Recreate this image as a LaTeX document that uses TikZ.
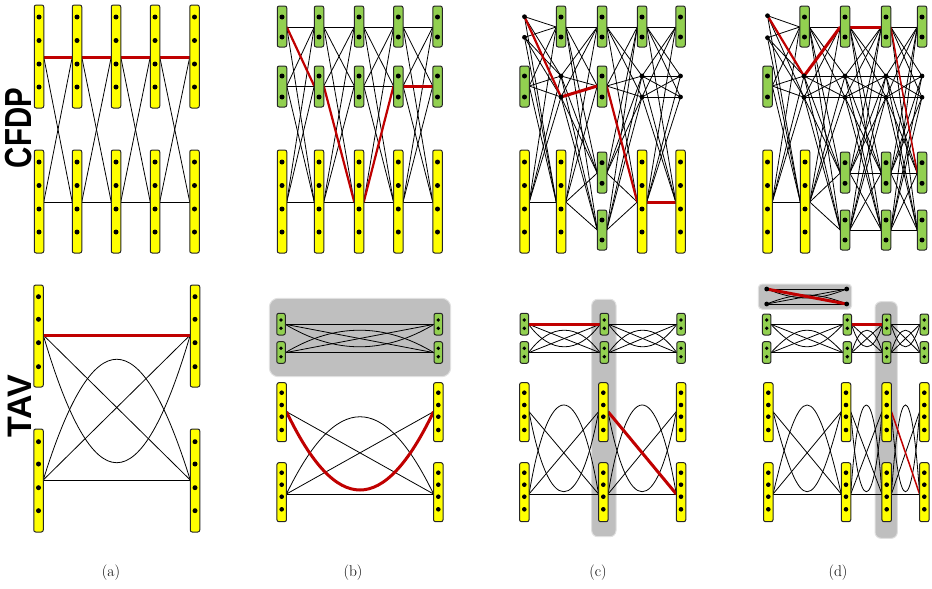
\documentclass[tikz,border=0pt]{standalone}
\usepackage{fontspec}
\newfontfamily\labfont{Liberation Sans}
\usetikzlibrary{calc}
\definecolor{yel}{HTML}{FFFF00}
\definecolor{grn}{HTML}{92D050}
\definecolor{myred}{HTML}{C00000}
\pgfdeclarelayer{back}\pgfdeclarelayer{bg}\pgfsetlayers{back,bg,main}
\tikzset{
 barbox/.style={rectangle, rounded corners=2pt, draw=black!85, line width=1pt, inner sep=0pt},
 ptnode/.style={circle, fill=black, inner sep=0pt, minimum size=4.8pt},
 ln/.style={draw=black, line width=0.8pt},
 rd/.style={draw=myred, line width=3pt},
 rdm/.style={draw=myred, line width=2.2pt},
 rdt/.style={draw=myred, line width=1.5pt},
 graybox/.style={rectangle, rounded corners=6pt, fill=black!25, draw=black!12, line width=1pt, inner sep=0pt},
 sub/.style={font=\fontsize{15.5}{18}\selectfont},
}
% name, x, top, bottom, fill, dots, port y, width, dot radius
\newcommand\mybar[9]{%
 \node[barbox, fill=#5, minimum width=#8, minimum height={#4-#3}] (#1) at (#2,{(#3+#4)/2}) {};
 \foreach \dy in {#6} {\fill (#2,\dy) circle[radius=#9];}
 \coordinate (#1-l) at ({#2-#8/2},#7);
 \coordinate (#1-r) at ({#2+#8/2},#7);
}
\newcommand\mypt[3]{%
 \node[ptnode] (#1) at (#2,#3) {};
 \coordinate (#1-l) at (#2,#3);
 \coordinate (#1-r) at (#2,#3);
}
\newcommand\lnk[3][ln]{\draw[#1] (#2-r) -- (#3-l);}
\newcommand\bnd[5][ln]{\draw[#1] (#2-r) .. controls +(#4,#5) and +(-#4,#5) .. (#3-l);}
\begin{document}
\begin{tikzpicture}[x=1pt,y=-1pt]
\useasboundingbox (0,0) rectangle (932,589);
% ---------------- CFDP (a)
\foreach \i/\x in {1/39,2/77,3/116,4/155,5/194.5} {
 \mybar{aT\i}{\x}{5}{108}{yel}{17,40.5,64,87}{57}{9.5}{2.5}
 \mybar{aB\i}{\x}{150}{253}{yel}{162,185.5,209,232}{202}{9.5}{2.5}
}
\begin{pgfonlayer}{bg}
\foreach \i/\j in {1/2,2/3,3/4,4/5} {
 \lnk{aB\i}{aB\j}
 \lnk{aT\i}{aB\j}
 \lnk{aB\i}{aT\j}
 \lnk[rd]{aT\i}{aT\j}
}
\end{pgfonlayer}
% ---------------- CFDP (b)
\foreach \i/\x in {1/282,2/319,3/359,4/398.3,5/437.5} {
 \mybar{bT\i}{\x}{6}{47}{grn}{17,37}{27}{9.5}{2.5}
 \mybar{bM\i}{\x}{66}{107}{grn}{76,97}{86}{9.5}{2.5}
 \mybar{bY\i}{\x}{150}{253}{yel}{162,185.5,209,232}{202}{9.5}{2.5}
}
\begin{pgfonlayer}{bg}
\foreach \i/\j in {1/2,2/3,3/4,4/5} {
 \foreach \a in {T,M,Y} {\foreach \b in {T,M,Y} {\lnk{b\a\i}{b\b\j}}}
}
\lnk[rdm]{bT1}{bM2}
\lnk[rdm]{bM2}{bY3}
\lnk[rdm]{bY3}{bM4}
\lnk[rd]{bM4}{bM5}
\end{pgfonlayer}
% ---------------- CFDP (c)
\mypt{cP1a}{524.5}{16.7}
\mypt{cP1b}{524.5}{37.3}
\mybar{cM1}{524.5}{66}{107}{grn}{76,97}{86}{9.5}{2.5}
\mybar{cY1}{524.5}{150}{253}{yel}{162,185.5,209,232}{202}{9.5}{2.5}
\mybar{cT2}{561}{6}{47}{grn}{17,37}{27}{9.5}{2.5}
\mypt{cP2a}{561}{76}
\mypt{cP2b}{561}{97}
\mybar{cY2}{561}{150}{253}{yel}{162,185.5,209,232}{202}{9.5}{2.5}
\mybar{cT3}{602}{6}{47}{grn}{17,37}{27}{9.5}{2.5}
\mybar{cM3}{602}{66}{107}{grn}{76,97}{86}{9.5}{2.5}
\mybar{cA3}{602}{152}{193}{grn}{162.7,183.3}{173}{9.5}{2.5}
\mybar{cB3}{602}{210}{250}{grn}{220,240}{230}{9.5}{2.5}
\mybar{cT4}{642}{6}{47}{grn}{17,37}{27}{9.5}{2.5}
\mypt{cP4a}{642}{76}
\mypt{cP4b}{642}{97}
\mybar{cY4}{642}{150}{253}{yel}{162,185.5,209,232}{202}{9.5}{2.5}
\mybar{cT5}{680.5}{6}{47}{grn}{17,37}{27}{9.5}{2.5}
\mypt{cP5a}{680.5}{76}
\mypt{cP5b}{680.5}{97}
\mybar{cY5}{680.5}{150}{253}{yel}{162,185.5,209,232}{202}{9.5}{2.5}
\begin{pgfonlayer}{bg}
\foreach \a in {cP1a,cP1b,cM1,cY1} {\foreach \b in {cT2,cP2a,cP2b,cY2} {\lnk{\a}{\b}}}
\foreach \a in {cT2,cP2a,cP2b,cY2} {\foreach \b in {cT3,cM3,cA3,cB3} {\lnk{\a}{\b}}}
\foreach \a in {cT3,cM3,cA3,cB3} {\foreach \b in {cT4,cP4a,cP4b,cY4} {\lnk{\a}{\b}}}
\foreach \a in {cT4,cP4a,cP4b,cY4} {\foreach \b in {cT5,cP5a,cP5b,cY5} {\lnk{\a}{\b}}}
\lnk[rdm]{cP1a}{cP2b}
\lnk[rd]{cP2b}{cM3}
\lnk[rdm]{cM3}{cY4}
\lnk[rd]{cY4}{cY5}
\end{pgfonlayer}
% ---------------- CFDP (d)
\mypt{dP1a}{767.5}{15.7}
\mypt{dP1b}{767.5}{37.7}
\mybar{dM1}{767.5}{66}{107}{grn}{76,97}{86}{9.5}{2.5}
\mybar{dY1}{767.5}{150}{253}{yel}{162,185.5,209,232}{202}{9.5}{2.5}
\mybar{dT2}{804.5}{6}{47}{grn}{17,37}{27}{9.5}{2.5}
\mypt{dP2a}{804}{76}
\mypt{dP2b}{804}{97.3}
\mybar{dY2}{805}{150}{253}{yel}{162,185.5,209,232}{202}{9.5}{2.5}
\foreach \i/\x in {3/845,4/886,5/922} {
 \mybar{dT\i}{\x}{6}{47}{grn}{17,37}{27}{9.5}{2.5}
 \mypt{dP\i a}{\x}{76}
 \mypt{dP\i b}{\x}{97.3}
 \mybar{dA\i}{\x}{152}{193}{grn}{162.7,183.3}{173}{9.5}{2.5}
 \mybar{dB\i}{\x}{210}{250}{grn}{220,240}{230}{9.5}{2.5}
}
\begin{pgfonlayer}{bg}
\foreach \a in {dP1a,dP1b,dM1,dY1} {\foreach \b in {dT2,dP2a,dP2b,dY2} {\lnk{\a}{\b}}}
\foreach \a in {dT2,dP2a,dP2b,dY2} {\foreach \b in {dT3,dP3a,dP3b,dA3,dB3} {\lnk{\a}{\b}}}
\foreach \a in {dT3,dP3a,dP3b,dA3,dB3} {\foreach \b in {dT4,dP4a,dP4b,dA4,dB4} {\lnk{\a}{\b}}}
\foreach \a in {dT4,dP4a,dP4b,dA4,dB4} {\foreach \b in {dT5,dP5a,dP5b,dA5,dB5} {\lnk{\a}{\b}}}
\lnk[rdm]{dP1a}{dP2a}
\lnk[rd]{dP2a}{dT3}
\lnk[rd]{dT3}{dT4}
\lnk[rdt]{dT4}{dA5}
\end{pgfonlayer}
% ---------------- TAV (a)
\mybar{eUL}{38.5}{285}{387}{yel}{296.7,319.3,342.7,366.7}{335}{9.5}{2.5}
\mybar{eLL}{38.5}{429}{532}{yel}{441.7,464,487.7,510.7}{480}{9.5}{2.5}
\mybar{eUR}{195}{285}{387}{yel}{296.7,319.3,342.7,366.7}{335}{9.5}{2.5}
\mybar{eLR}{195}{429}{532}{yel}{441.7,464,487.7,510.7}{480}{9.5}{2.5}
\begin{pgfonlayer}{bg}
\lnk{eLL}{eLR}
\lnk{eUL}{eLR}
\lnk{eLL}{eUR}
\bnd{eUL}{eUR}{50}{170.3}
\bnd{eLL}{eLR}{50}{-161}
\lnk[rd]{eUL}{eUR}
\end{pgfonlayer}
% ---------------- TAV (b)
\begin{pgfonlayer}{back}
\node[graybox, rounded corners=9pt, minimum width=181.4, minimum height=78.4] (fbox) at (360,337.5) {};
\end{pgfonlayer}
\mybar{fG1}{281}{313.3}{335}{grn}{320,328.3}{324.3}{8.5}{1.9}
\mybar{fG2}{281}{341.7}{363.3}{grn}{348.3,356.7}{352.7}{8.5}{1.9}
\mybar{fH1}{438.3}{313.3}{335}{grn}{320,328.3}{324.3}{8.5}{1.9}
\mybar{fH2}{438.3}{341.7}{363.3}{grn}{348.3,356.7}{352.7}{8.5}{1.9}
\mybar{fUL}{281.7}{382.7}{441.7}{yel}{392.7,405,416.7,430}{411.7}{9.5}{2.3}
\mybar{fLL}{281.7}{462.7}{521.7}{yel}{472.7,484.7,496.7,509.3}{494}{9.5}{2.3}
\mybar{fUR}{438.3}{382.7}{441.7}{yel}{392.7,405,416.7,430}{411.7}{9.5}{2.3}
\mybar{fLR}{438.3}{462.7}{521.7}{yel}{472.7,484.7,496.7,509.3}{494}{9.5}{2.3}
\begin{pgfonlayer}{bg}
\lnk{fG1}{fH1}
\lnk{fG2}{fH2}
\lnk{fG1}{fH2}
\lnk{fG2}{fH1}
\bnd{fG1}{fH1}{50}{30}
\bnd{fG2}{fH2}{50}{-30}
\lnk{fLL}{fLR}
\lnk{fUL}{fLR}
\lnk{fLL}{fUR}
\bnd{fLL}{fLR}{50}{-103}
\bnd[rd]{fUL}{fUR}{50}{104.4}
\end{pgfonlayer}
% ---------------- TAV (c)
\begin{pgfonlayer}{back}
\node[graybox, minimum width=24.3, minimum height=237.4] (gbox) at (603.85,418) {};
\end{pgfonlayer}
\foreach \i/\x in {1/524.3,2/604.3,3/681} {
 \mybar{gA\i}{\x}{313.3}{335}{grn}{320,328.3}{324.3}{8.5}{1.9}
 \mybar{gB\i}{\x}{341.7}{363.3}{grn}{348.3,356.7}{352.7}{8.5}{1.9}
}
\foreach \i/\x in {1/524.3,2/603.3,3/681} {
 \mybar{gU\i}{\x}{382.7}{441.7}{yel}{392.7,405,416.7,430}{411.7}{9.5}{2.3}
 \mybar{gL\i}{\x}{462.7}{521.7}{yel}{472.7,484.7,496.7,509.3}{494}{9.5}{2.3}
}
\begin{pgfonlayer}{bg}
\lnk{gB1}{gB2}
\lnk{gA1}{gB2}
\lnk{gB1}{gA2}
\bnd{gA1}{gA2}{22}{30}
\bnd{gB1}{gB2}{22}{-30}
\lnk[rd]{gA1}{gA2}
\lnk{gA2}{gA3}
\lnk{gB2}{gB3}
\lnk{gA2}{gB3}
\lnk{gB2}{gA3}
\bnd{gA2}{gA3}{22}{30}
\bnd{gB2}{gB3}{22}{-30}
\foreach \i/\j in {1/2,2/3} {
 \lnk{gL\i}{gL\j}
 \lnk{gL\i}{gU\j}
 \bnd{gU\i}{gU\j}{20}{106.7}
 \bnd{gL\i}{gL\j}{20}{-118.7}
}
\lnk{gU1}{gL2}
\lnk[rd]{gU2}{gL3}
\end{pgfonlayer}
% ---------------- TAV (d)
\begin{pgfonlayer}{back}
\node[graybox, rounded corners=4pt, minimum width=93.4, minimum height=25.3] (hsbox) at (805,296.65) {};
\node[graybox, minimum width=22.3, minimum height=236.6] (hbox) at (886.15,420) {};
\end{pgfonlayer}
\mypt{hQ1}{766.7}{289}
\mypt{hQ2}{766.7}{304}
\mypt{hR1}{846.7}{289}
\mypt{hR2}{846.7}{304}
\foreach \i/\x in {1/766.7,2/847.3,3/886.7,4/924.3} {
 \mybar{hA\i}{\x}{314}{335}{grn}{320,328.3}{324.3}{8.5}{1.9}
 \mybar{hB\i}{\x}{341.7}{363.3}{grn}{348.3,356.7}{352.7}{8.5}{1.9}
}
\foreach \i/\x in {1/768.3,2/846,3/886.7,4/924.3} {
 \mybar{hU\i}{\x}{382.7}{441.7}{yel}{392.7,405,416.7,430}{411.7}{9.5}{2.3}
 \mybar{hL\i}{\x}{462.7}{521.7}{yel}{472.7,484.7,496.7,509.3}{494}{9.5}{2.3}
}
\begin{pgfonlayer}{bg}
\lnk{hQ1}{hR1}
\lnk{hQ2}{hR2}
\lnk{hQ2}{hR1}
\bnd{hQ1}{hR1}{30}{12}
\bnd{hQ2}{hR2}{30}{-12}
\lnk[rd]{hQ1}{hR2}
% small greens
\lnk{hA1}{hA2}
\lnk{hB1}{hB2}
\lnk{hA1}{hB2}
\lnk{hB1}{hA2}
\bnd{hA1}{hA2}{28}{30}
\bnd{hB1}{hB2}{28}{-30}
\foreach \i/\j in {2/3,3/4} {
 \lnk{hA\i}{hA\j}
 \lnk{hB\i}{hB\j}
 \lnk{hA\i}{hB\j}
 \lnk{hB\i}{hA\j}
 \bnd{hA\i}{hA\j}{9}{30}
 \bnd{hB\i}{hB\j}{9}{-30}
}
\lnk[rd]{hA2}{hA3}
% yellows
\lnk{hL1}{hL2}
\lnk{hL1}{hU2}
\lnk{hU1}{hL2}
\bnd{hU1}{hU2}{28}{106.7}
\bnd{hL1}{hL2}{28}{-118.7}
\foreach \i/\j in {2/3,3/4} {
 \lnk{hL\i}{hL\j}
 \lnk{hL\i}{hU\j}
 \bnd{hU\i}{hU\j}{8}{106.7}
 \bnd{hL\i}{hL\j}{8}{-118.7}
}
\lnk{hU2}{hL3}
\lnk[rdt]{hU3}{hL4}
\end{pgfonlayer}
% ---------------- labels
\node[rotate=90, font=\labfont\bfseries\fontsize{37.7}{40}\selectfont] (cfdp) at (18.5,128) {\scalebox{0.78}[1]{CFDP}};
\node[rotate=90, font=\labfont\bfseries\fontsize{34}{36}\selectfont] (tav) at (19.5,406.5) {TAV};
\node[sub] (la) at (111,573) {(a)};
\node[sub] (lb) at (353,573) {(b)};
\node[sub] (lc) at (598,573) {(c)};
\node[sub] (ld) at (838,573) {(d)};
\end{tikzpicture}
\end{document}
